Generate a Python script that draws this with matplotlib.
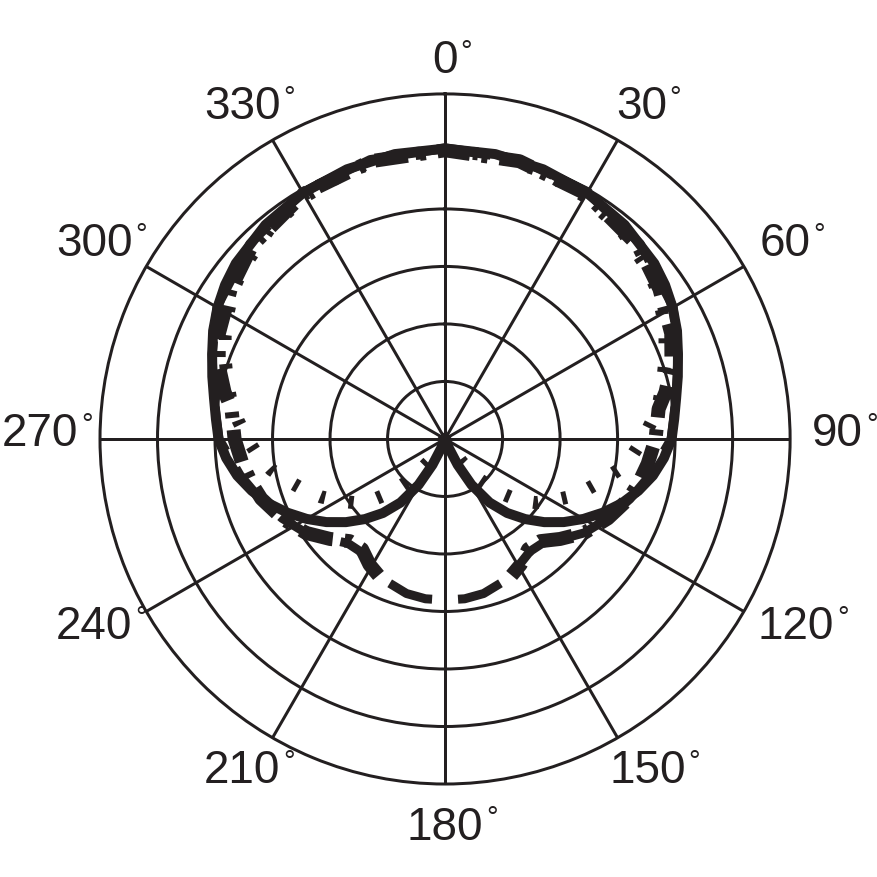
import matplotlib
matplotlib.use('Agg')
import matplotlib.pyplot as plt
import numpy as np

INK = '#231f20'
PX = 0.72  # points per pixel at dpi 100

# Polar response, right half only (0-180 deg); the left half is its mirror.
# Radii are counted in grid rings from the centre, 6 = outer ring.
solid_deg = [0, 10, 20, 30, 40, 50, 55, 60, 65, 70, 75, 80, 85, 90, 95, 100,
             105, 110, 115, 120, 125, 130, 135, 140, 145, 150, 154, 157, 159]
solid_r = [5.05, 5.03, 4.99, 4.94, 4.86, 4.75, 4.67, 4.57, 4.45, 4.31, 4.19,
           4.08, 4.0, 3.94, 3.82, 3.67, 3.48, 3.27, 3.03, 2.78, 2.52, 2.25,
           1.97, 1.68, 1.35, 0.92, 0.5, 0.18, 0.0]

dotted_deg = [0, 10, 20, 30, 40, 50, 55, 60, 65, 70, 75, 80, 85, 90, 95, 100,
              105, 110, 115, 120, 125, 130, 135, 140, 144, 148]
dotted_r = [5.02, 5.0, 4.95, 4.87, 4.76, 4.6, 4.5, 4.36, 4.22, 4.07, 3.92,
            3.78, 3.61, 3.44, 3.27, 3.07, 2.82, 2.6, 2.38, 2.15, 1.93, 1.66,
            1.3, 0.9, 0.5, 0.0]

dashdot_deg = [0, 15, 30, 45, 55, 65, 72, 78, 82, 90, 97, 103, 108, 116, 124,
               131, 137, 143, 149, 154]
dashdot_r = [5.02, 5.0, 4.92, 4.75, 4.55, 4.34, 4.14, 3.92, 3.75, 3.66, 3.55,
             3.45, 3.36, 3.15, 2.92, 2.65, 2.43, 2.4, 2.55, 2.64]

dashed_deg = [0, 15, 30, 45, 60, 70, 80, 90, 100, 108, 116, 124, 131, 137,
              143, 150, 158, 166, 173, 180]
dashed_r = [5.05, 5.03, 4.95, 4.8, 4.58, 4.31, 4.08, 3.93, 3.62, 3.38, 3.15,
            2.92, 2.66, 2.48, 2.45, 2.55, 2.68, 2.77, 2.8, 2.8]

ring_values = [1, 2, 3, 4, 5]
r_max = 6
label_angles = list(range(0, 360, 30))
label_texts = [str(a) for a in label_angles]


def mirrored(deg, r):
    deg = np.asarray(deg, float)
    r = np.asarray(r, float)
    return (np.deg2rad(np.concatenate([-deg[::-1], deg[1:]])),
            np.concatenate([r[::-1], r[1:]]))


fig = plt.figure(figsize=(8.78, 8.78), dpi=100)
ax = fig.add_axes([0.1139, 0.1059, 0.786, 0.786], projection='polar')
ax.set_theta_zero_location('N')
ax.set_theta_direction(-1)
ax.set_ylim(0, r_max)
ax.set_rgrids(ring_values, labels=[])
ax.set_thetagrids(label_angles, labels=[])
ax.grid(True, color=INK, linewidth=3 * PX)
ax.spines['polar'].set_color(INK)
ax.spines['polar'].set_linewidth(3 * PX)
ax.tick_params(length=0)

# solid curve
th, rr = mirrored(solid_deg, solid_r)
ax.plot(th, rr, color=INK, linewidth=10 * PX, solid_joinstyle='round')

# short perpendicular bars ("dotted")
lw_b = 13
th, rr = mirrored(dotted_deg, dotted_r)
ax.plot(th, rr, color=INK, linewidth=lw_b * PX,
        linestyle=(0, (5 / lw_b, 24 / lw_b)))

# heavy dash-dot
lw_d = 14
th, rr = mirrored(dashdot_deg, dashdot_r)
ax.plot(th, rr, color=INK, linewidth=lw_d * PX,
        linestyle=(0, (33 / lw_d, 12 / lw_d, 6 / lw_d, 12 / lw_d)))

# long dashes, drawn from the rear outwards so the gap sits at 180 deg
lw_c = 9
on_c, off_c = 46, 20
offset_c = (on_c + off_c - 13) / lw_c
dd = np.asarray(dashed_deg, float)[::-1]
dr = np.asarray(dashed_r, float)[::-1]
for sign in (1, -1):
    ax.plot(np.deg2rad(sign * dd), dr, color=INK, linewidth=lw_c * PX,
            linestyle=(offset_c, (on_c / lw_c, off_c / lw_c)))

# angle labels: digits outside the ring, small degree ring at top right
fig.canvas.draw()
renderer = fig.canvas.get_renderer()
cx, cy = ax.transData.transform((0, 0))
ox, oy = ax.transData.transform((0, r_max))
ring_px = np.hypot(ox - cx, oy - cy)
fs = 33
fs_px = fs / PX
digit_h = 0.716 * fs_px
gap = 22
for ang, lab in zip(label_angles, label_texts):
    a = np.deg2rad(ang)
    s, c = np.sin(a), np.cos(a)
    t = fig.text(0, 0, lab, fontsize=fs, family='Liberation Sans', color=INK,
                 ha='center', va='baseline')
    w = t.get_window_extent(renderer).width
    x = cx + s * (ring_px + gap) + s * w / 2
    y = cy + c * (ring_px + gap) + c * digit_h / 2 + 10 * abs(s)
    fx, fy = fig.transFigure.inverted().transform((x, y - digit_h / 2))
    t.set_position((fx, fy))
    fig.add_artist(plt.matplotlib.text.Annotation(
        '\u00b0', xy=(1, 1), xycoords=t, xytext=(2, 1),
        textcoords='offset points', ha='left', va='top', fontsize=21,
        family='Liberation Sans', color=INK))

fig.savefig('out.png', dpi=100)
